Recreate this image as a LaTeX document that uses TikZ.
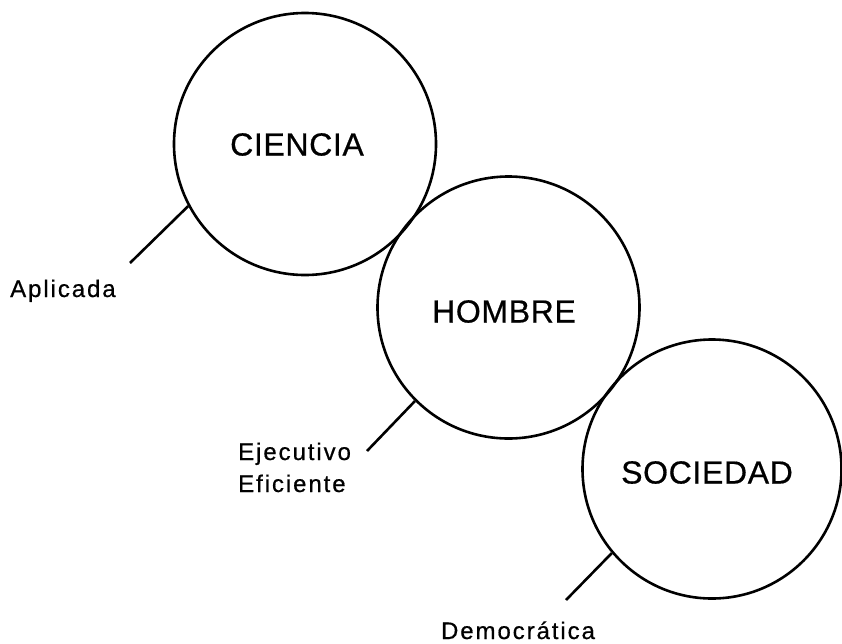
\documentclass[tikz,border=0pt]{standalone}
\usepackage{fontspec}
\setmainfont{Liberation Sans}
\newfontfamily\lblfont[LetterSpace=8,FakeBold=0.6]{Liberation Sans}
\newfontfamily\bigfont[LetterSpace=2,FakeBold=0.6]{Liberation Sans}
\begin{document}
\begin{tikzpicture}[x=1pt,y=-1pt,
  bubble/.style={draw=black, line width=2.6pt, circle, inner sep=0pt, minimum size=262pt},
  title/.style={font=\bigfont\fontsize{32}{36}\selectfont, inner sep=0pt},
  lbl/.style={font=\lblfont\fontsize{24}{29}\selectfont, inner sep=0pt},
  tick/.style={line width=2.6pt}]
\useasboundingbox (0,0) rectangle (842,643);
\fill[white] (0,0) rectangle (842,643);
\node[bubble] (c1) at (305,144) {};
\node[bubble] (c2) at (508.5,307.5) {};
\node[bubble, minimum size=259pt] (c3) at (712,469) {};
\node[title] (t1) at (297,144.5) {CIENCIA};
\node[title] (t2) at (504,311.5) {HOMBRE};
\node[title] (t3) at (707,472.5) {SOCIEDAD};
\coordinate (e1) at (130,263);
\coordinate (e2) at (367,451);
\coordinate (e3) at (566,600);
\draw[tick] (c1.208) -- (e1);
\draw[tick] (c2.225) -- (e2);
\draw[tick] (c3.220) -- (e3);
\node[lbl, anchor=base west] (l1) at (10,297) {Aplicada};
\node[lbl, anchor=base west] (l2) at (238,460) {Ejecutivo};
\node[lbl, anchor=base west] (l2b) at (238,492) {Eficiente};
\node[lbl, anchor=base] (l3) at (518,639) {Democrática};
\end{tikzpicture}
\end{document}
